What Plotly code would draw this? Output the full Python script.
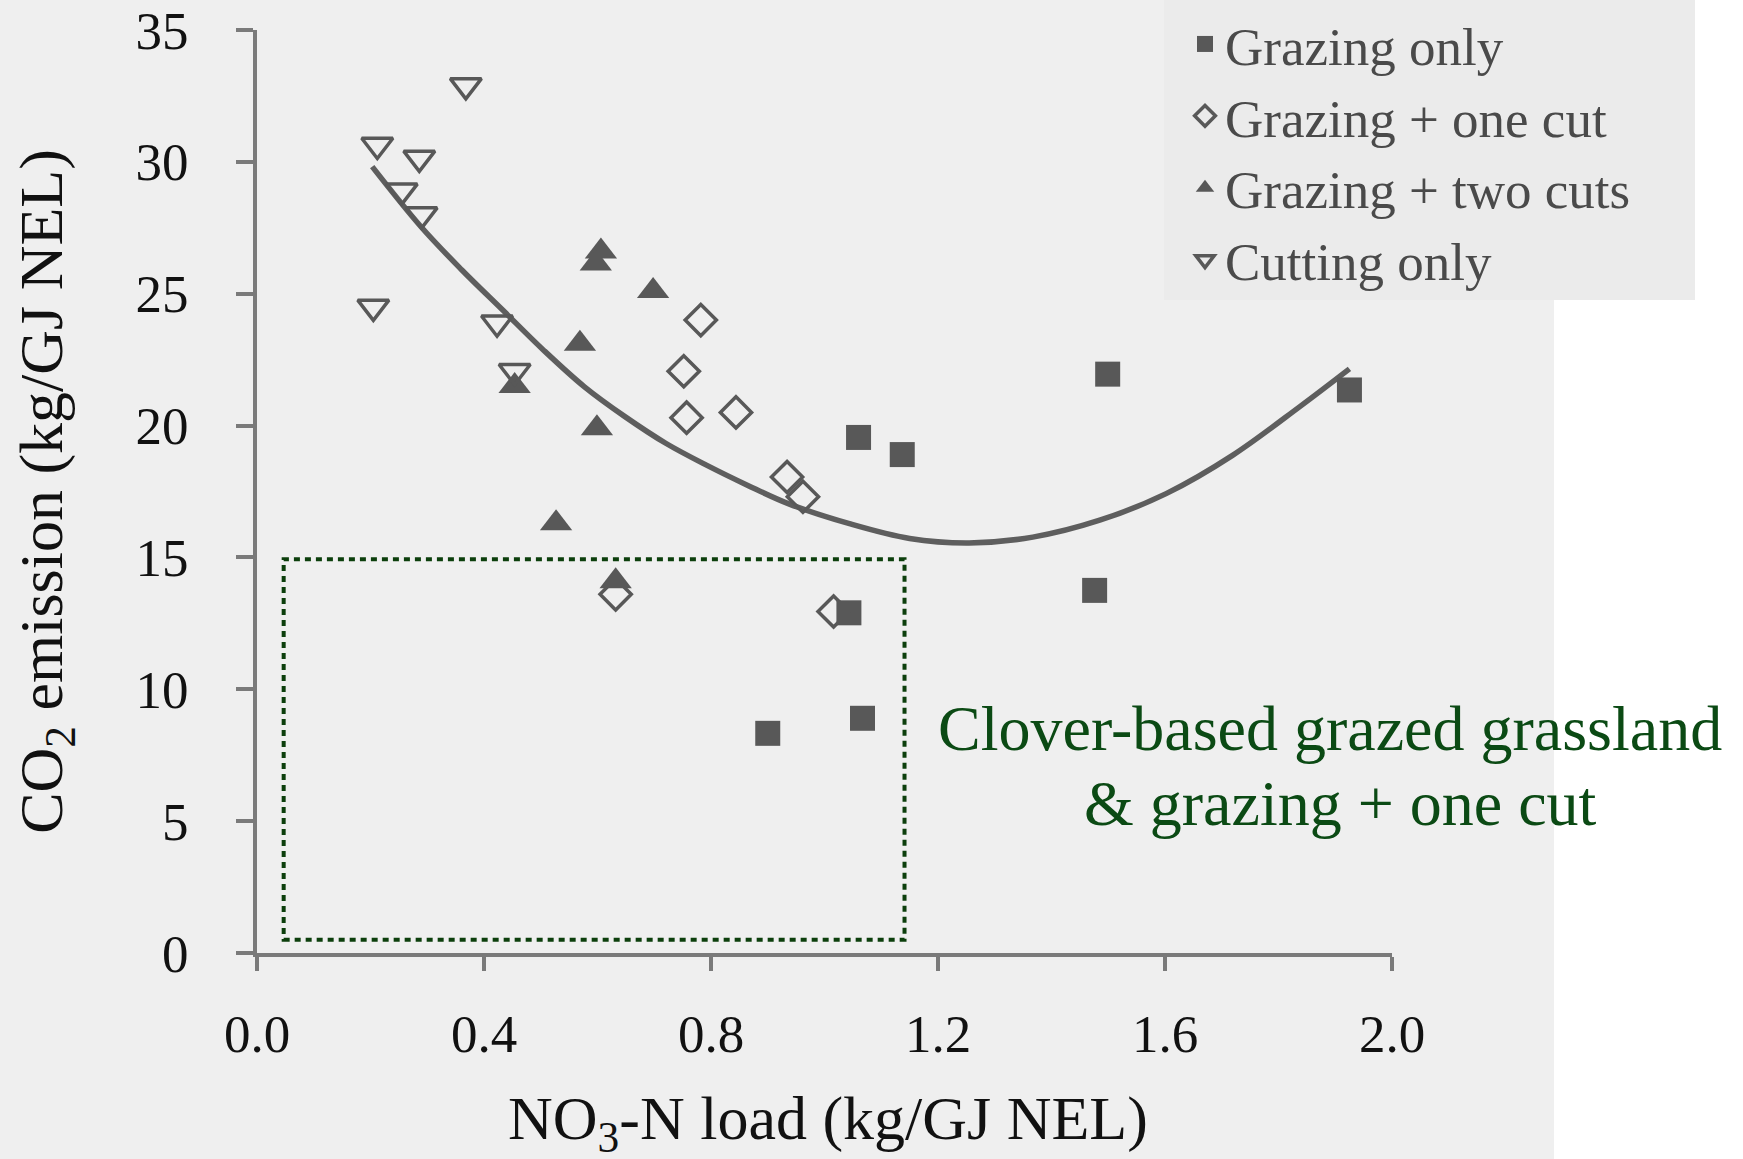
import plotly.graph_objects as go

# ---- data ----
graz_x = [0.900, 1.067, 1.043, 1.060, 1.137, 1.499, 1.476, 1.925]
graz_y = [8.33, 8.9, 12.9, 19.55, 18.9, 21.95, 13.75, 21.35]

one_x = [0.782, 0.752, 0.757, 0.844, 0.934, 0.962, 0.632, 1.016]
one_y = [24.0, 22.06, 20.3, 20.5, 18.05, 17.3, 13.6, 12.95]

two_x = [0.454, 0.606, 0.597, 0.698, 0.569, 0.599, 0.527, 0.632]
two_y = [21.5, 26.6, 26.15, 25.1, 23.1, 19.9, 16.3, 14.1]

cut_x = [0.368, 0.212, 0.286, 0.255, 0.290, 0.205, 0.423, 0.454]
cut_y = [32.9, 30.64, 30.15, 28.9, 28.0, 24.5, 23.9, 22.06]

# trend curve, points
curve_x = [0.203, 0.289, 0.361, 0.433, 0.505, 0.577, 0.649, 0.721, 0.792, 0.864, 0.936,
           1.044, 1.150, 1.255, 1.367, 1.485, 1.602, 1.719, 1.837, 1.925]
curve_y = [29.82, 27.54, 25.9, 24.38, 22.86, 21.47, 20.33, 19.32, 18.5, 17.74, 17.04,
           16.28, 15.72, 15.55, 15.77, 16.41, 17.42, 18.87, 20.71, 22.15]

names = ["Grazing only", "Grazing + one cut", "Grazing + two cuts", "Cutting only"]
x_ticks = [0.0, 0.4, 0.8, 1.2, 1.6, 2.0]
y_ticks = [0, 5, 10, 15, 20, 25, 30, 35]
box_x = [0.047, 1.141]
box_y = [0.5, 14.93]
note_lines = ["Clover-based grazed grassland", "& grazing + one cut"]
x_title = "NO<sub>3</sub>-N load (kg/GJ NEL)"
y_title = "CO<sub>2</sub> emission (kg/GJ NEL)"

FONT = "Liberation Serif"
MK = "#585858"
GREEN = "#0b4a14"
BG = "#efefef"

fig = go.Figure()

fig.add_trace(go.Scatter(x=curve_x, y=curve_y, mode="lines",
                         line=dict(color="#5e5e5e", width=5.5, shape="spline", smoothing=1.0),
                         showlegend=False, hoverinfo="skip"))

fig.add_trace(go.Scatter(x=graz_x, y=graz_y, mode="markers", name=names[0],
                         marker=dict(symbol="square", size=25, color=MK), cliponaxis=False))
fig.add_trace(go.Scatter(x=one_x, y=one_y, mode="markers", name=names[1],
                         marker=dict(symbol="diamond-open", size=24, color=MK, line=dict(width=3.5, color=MK)),
                         cliponaxis=False))
fig.add_trace(go.Scatter(x=two_x, y=two_y, mode="markers", name=names[2],
                         marker=dict(symbol="triangle-up", size=28, color=MK), cliponaxis=False))
fig.add_trace(go.Scatter(x=cut_x, y=cut_y, mode="markers", name=names[3],
                         marker=dict(symbol="triangle-down-open", size=27, color=MK, line=dict(width=3.5, color=MK)),
                         cliponaxis=False))

L, R, T, B = 257, 351, 30, 206
W, H = 1743, 1159
PW, PH = W - L - R, H - T - B

def px2paper(px, py):
    return (px - L) / PW, (H - B - py) / PH

shapes = []
x0, y0 = px2paper(0, H)
x1, y1 = px2paper(1554, 0)
shapes.append(dict(type="rect", xref="paper", yref="paper", x0=x0, y0=y0, x1=x1, y1=y1,
                   fillcolor=BG, line=dict(width=0), layer="below"))
x0, y0 = px2paper(1164, 300)
x1, y1 = px2paper(1695, 0)
shapes.append(dict(type="rect", xref="paper", yref="paper", x0=x0, y0=y0, x1=x1, y1=y1,
                   fillcolor="#ebebeb", line=dict(width=0), layer="below"))
shapes.append(dict(type="rect", xref="x", yref="y", x0=box_x[0], x1=box_x[1], y0=box_y[0], y1=box_y[1],
                   line=dict(color="#0c3f0c", width=4, dash="6px,5px"), layer="above"))

ax1x, ax1y = px2paper(1330, 728)
ax2x, ax2y = px2paper(1340, 803)
txx, txy = px2paper(828, 1122)
annotations = [
    dict(xref="paper", yref="paper", x=ax1x, y=ax1y, text=note_lines[0], showarrow=False,
         xanchor="center", yanchor="middle", font=dict(family=FONT, size=64, color=GREEN)),
    dict(xref="paper", yref="paper", x=ax2x, y=ax2y, text=note_lines[1], showarrow=False,
         xanchor="center", yanchor="middle", font=dict(family=FONT, size=64, color=GREEN)),
    # x-axis title placed as an annotation so it can sit near the page's lower edge like the original
    dict(xref="paper", yref="paper", x=txx, y=txy, text=x_title, showarrow=False,
         xanchor="center", yanchor="middle", font=dict(family=FONT, size=62, color="#111111")),
]

axis_common = dict(showline=True, linecolor="#7a7a7a", linewidth=4, ticks="outside", tickwidth=4,
                   tickcolor="#7a7a7a", showgrid=False, zeroline=False,
                   tickfont=dict(family=FONT, size=53, color="#111111"))

fig.update_layout(
    width=W, height=H,
    margin=dict(l=L, r=R, t=T, b=B, autoexpand=False),
    paper_bgcolor="white", plot_bgcolor="rgba(0,0,0,0)",
    shapes=shapes, annotations=annotations,
    xaxis=dict(range=[0, 2.0], tickvals=x_ticks, ticktext=[f"{v:.1f}" for v in x_ticks],
               ticklen=14, ticklabelstandoff=17, **axis_common),
    yaxis=dict(range=[0, 35], tickvals=y_ticks, ticklen=17, ticklabelstandoff=37,
               title=dict(text=y_title, standoff=54,
                          font=dict(family=FONT, size=62, color="#111111")),
               **axis_common),
    legend=dict(x=(1185 - L) / PW, xanchor="left", y=(H - B - 3) / PH, yanchor="top",
                bgcolor="rgba(0,0,0,0)", borderwidth=0,
                font=dict(family=FONT, size=53, color="#4a4a4a"), itemwidth=30),
    showlegend=True,
)

fig.write_html("out.html", config={"displayModeBar": False},
               post_script="document.body.style.margin='0px';")
